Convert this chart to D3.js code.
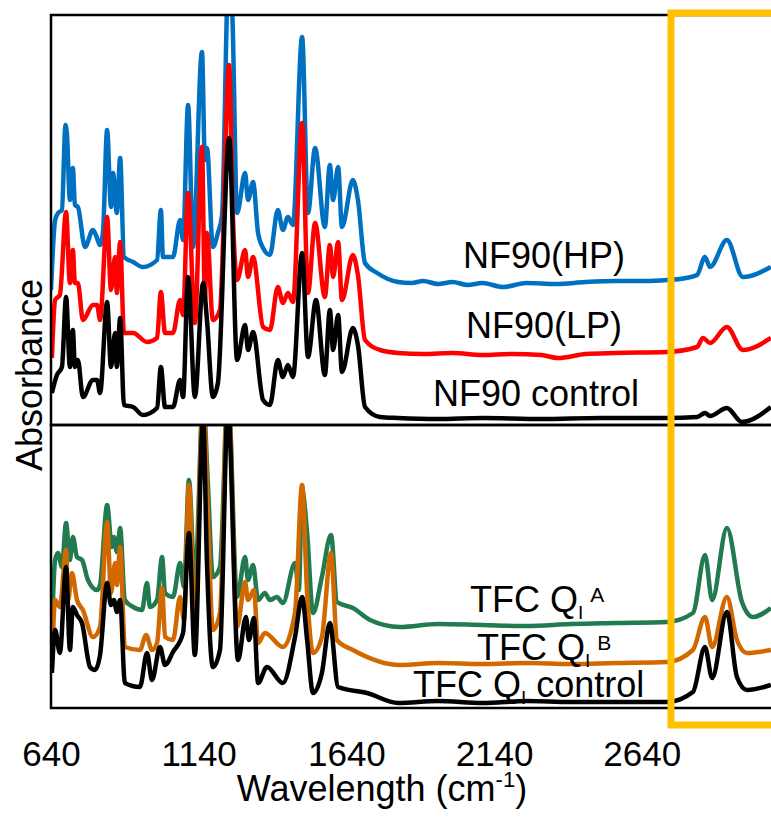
<!DOCTYPE html>
<html>
<head>
<meta charset="utf-8">
<script src="https://cdn.jsdelivr.net/npm/d3@7"></script>
<style>
  body { margin: 0; background: #fff; }
  svg { display: block; font-family: "Liberation Sans", Arial, sans-serif; }
</style>
</head>
<body>
<svg id="chart" width="771" height="817"></svg>
<script>
// wavenumber (cm-1), absorbance (offset, arbitrary units) as plotted
const nf90HP = [[640,1.35],[654,2.05],[664,2.12],[677,2.15],[689,3.00],[694,2.90],[704,2.25],[714,2.57],[721,2.20],[731,2.18],
  [755,1.78],[782,1.95],[792,1.90],[806,1.80],[816,1.93],[830,2.95],[843,2.18],[850,2.52],[863,2.12],[874,2.67],[887,1.68],
  [918,1.63],[951,1.58],[999,1.65],[1012,2.15],[1019,1.68],[1053,1.68],[1077,2.05],[1087,1.85],[1104,3.20],[1121,1.78],
  [1151,3.73],[1161,2.65],[1168,2.77],[1188,1.78],[1205,1.92],[1219,2.10],[1240,4.40],[1253,4.15],[1270,2.12],[1297,2.52],
  [1307,2.25],[1324,2.43],[1341,1.92],[1358,1.77],[1381,1.70],[1408,2.15],[1425,1.95],[1442,2.08],[1459,2.00],[1490,3.88],
  [1510,2.12],[1534,2.77],[1567,1.98],[1584,2.60],[1595,2.25],[1612,2.58],[1625,1.98],[1662,2.45],[1679,2.25],[1703,1.62],
  [1744,1.52],[1815,1.43],[1860,1.42],[1900,1.44],[1950,1.41],[2000,1.43],[2050,1.40],[2100,1.42],[2170,1.38],[2250,1.42],
  [2350,1.41],[2450,1.43],[2550,1.44],[2650,1.44],[2725,1.45],[2790,1.47],[2827,1.50],[2854,1.68],[2871,1.58],[2928,1.85],
  [2982,1.48],[3077,1.58]];
const nf90LP = [[643,0.67],[654,1.25],[670,1.30],[691,2.13],[704,1.42],[714,1.75],[721,1.42],[731,1.42],[748,1.05],[782,1.20],
  [796,1.20],[806,1.05],[830,2.08],[843,1.35],[857,1.68],[863,1.32],[874,1.83],[887,0.92],[918,0.92],[965,0.83],[999,0.87],
  [1012,1.33],[1026,0.92],[1053,0.92],[1077,1.25],[1087,1.10],[1104,2.32],[1127,1.02],[1151,2.78],[1161,1.25],[1168,1.92],
  [1188,1.05],[1212,1.15],[1243,3.60],[1256,2.08],[1270,1.45],[1297,1.75],[1307,1.48],[1324,1.68],[1358,0.98],[1381,0.95],
  [1408,1.38],[1425,1.22],[1442,1.32],[1459,1.23],[1490,3.02],[1510,1.32],[1534,2.02],[1567,1.28],[1584,1.80],[1595,1.48],
  [1612,1.83],[1625,1.25],[1662,1.70],[1679,1.50],[1703,0.85],[1754,0.75],[1815,0.72],[1900,0.71],[2000,0.72],[2100,0.70],
  [2200,0.71],[2300,0.70],[2356,0.67],[2450,0.71],[2550,0.72],[2725,0.73],[2827,0.78],[2847,0.87],[2871,0.82],[2928,0.98],
  [2982,0.75],[3077,0.87]];
const nf90Control = [[643,0.32],[660,0.50],[677,0.58],[691,1.28],[704,0.58],[714,0.95],[721,0.58],[731,0.65],[748,0.28],
  [782,0.45],[796,0.45],[806,0.32],[830,1.23],[843,0.58],[857,0.92],[863,0.58],[874,1.07],[887,0.20],[918,0.18],[951,0.10],
  [999,0.17],[1012,0.58],[1026,0.18],[1053,0.18],[1077,0.45],[1087,0.28],[1104,1.48],[1127,0.28],[1155,1.42],[1168,1.05],
  [1188,0.28],[1205,0.42],[1243,2.87],[1270,0.65],[1297,1.00],[1307,0.75],[1324,0.93],[1358,0.25],[1381,0.20],[1408,0.65],
  [1425,0.48],[1442,0.60],[1459,0.48],[1490,1.72],[1510,0.68],[1537,1.25],[1567,0.50],[1584,1.15],[1595,0.75],[1612,1.10],
  [1625,0.53],[1662,0.97],[1679,0.80],[1703,0.18],[1754,0.08],[1815,0.07],[1950,0.06],[2100,0.07],[2300,0.06],[2500,0.07],
  [2725,0.07],[2827,0.08],[2854,0.12],[2871,0.09],[2928,0.17],[2979,0.03],[3077,0.18]];

const tfcA = [[643,0.78],[654,1.48],[664,1.55],[677,1.41],[691,1.85],[704,1.48],[714,1.71],[728,1.51],[745,1.48],[765,1.28],
  [796,1.18],[806,1.23],[830,2.03],[846,1.61],[853,1.71],[863,1.56],[874,1.80],[890,1.08],[918,1.01],[948,0.98],[965,1.25],
  [975,1.01],[999,1.08],[1016,1.51],[1026,1.15],[1053,1.11],[1077,1.45],[1090,1.21],[1107,2.28],[1127,1.25],[1155,3.10],
  [1171,2.25],[1188,1.31],[1212,1.41],[1239,3.20],[1270,1.11],[1297,1.51],[1307,1.28],[1324,1.43],[1341,1.08],[1364,1.15],
  [1381,1.08],[1405,1.11],[1425,1.05],[1466,1.45],[1479,1.18],[1490,2.18],[1507,1.75],[1527,0.95],[1557,1.31],[1588,1.73],
  [1608,1.06],[1662,1.00],[1720,0.88],[1821,0.81],[1950,0.84],[2100,0.83],[2250,0.82],[2400,0.84],[2550,0.85],[2725,0.86],
  [2813,0.95],[2854,1.53],[2878,1.08],[2928,1.80],[2979,1.06],[3016,0.91],[3077,1.00]];
const tfcB = [[643,0.38],[654,1.08],[670,1.01],[691,1.58],[698,1.08],[711,1.35],[728,1.08],[748,0.98],[782,0.71],[806,0.81],
  [830,1.86],[843,1.15],[857,1.45],[863,1.23],[874,1.61],[890,0.61],[941,0.58],[962,0.73],[982,0.58],[999,0.65],[1016,1.20],
  [1026,0.71],[1053,0.68],[1077,1.11],[1090,0.88],[1107,2.23],[1127,0.78],[1155,3.10],[1171,1.95],[1188,0.78],[1212,0.95],
  [1239,3.20],[1270,0.81],[1297,1.26],[1307,1.08],[1327,1.18],[1341,0.65],[1364,0.75],[1425,0.61],[1466,0.95],[1490,2.23],
  [1507,1.15],[1527,0.55],[1557,0.71],[1588,1.55],[1608,0.68],[1662,0.58],[1821,0.43],[1950,0.45],[2100,0.44],[2250,0.45],
  [2400,0.44],[2550,0.45],[2725,0.46],[2813,0.58],[2854,0.91],[2878,0.61],[2928,1.11],[2962,0.68],[2996,0.55],[3077,0.58]];
const tfcControl = [[643,0.35],[654,0.78],[670,0.55],[691,1.41],[704,0.58],[714,1.01],[728,0.93],[745,0.85],[772,0.41],
  [789,0.38],[806,0.53],[830,1.25],[843,1.03],[853,1.08],[863,0.96],[874,1.08],[890,0.25],[941,0.21],[965,0.55],[982,0.28],
  [1009,0.61],[1026,0.43],[1053,0.56],[1087,0.75],[1107,1.75],[1127,0.53],[1155,2.90],[1168,1.45],[1188,0.41],[1212,0.58],
  [1239,3.00],[1273,0.48],[1300,0.91],[1310,0.68],[1327,0.90],[1341,0.25],[1371,0.41],[1425,0.25],[1466,0.71],[1490,1.11],
  [1507,0.68],[1527,0.15],[1557,0.35],[1584,0.85],[1612,0.21],[1710,0.15],[1815,0.05],[1950,0.07],[2100,0.05],[2250,0.07],
  [2400,0.06],[2550,0.06],[2725,0.06],[2813,0.16],[2854,0.61],[2878,0.30],[2928,0.96],[2962,0.31],[2996,0.18],[3077,0.23]];

const tickValues = [640, 1140, 1640, 2140, 2640];

const topSeries = [
  {name: "NF90(HP)", data: nf90HP, color: "#0070C0"},
  {name: "NF90(LP)", data: nf90LP, color: "#FF0000"},
  {name: "NF90 control", data: nf90Control, color: "#000000"}
];
const bottomSeries = [
  {name: "TFC QI A", data: tfcA, color: "#217A50"},
  {name: "TFC QI B", data: tfcB, color: "#D26900"},
  {name: "TFC QI control", data: tfcControl, color: "#000000"}
];

let svg = d3.select("#chart");

let left = 51, top1 = 15, mid = 425, bottom = 708, right = 1100;

let x_scale = d3.scaleLinear()
  .domain([640, 4000])
  .range([left, left + 3360 * 0.2954]);

let y_top = d3.scaleLinear().domain([0, 4.1]).range([mid, top1]);
let y_bot = d3.scaleLinear().domain([0, 2.83]).range([bottom, mid]);

// clip paths
let defs = svg.append("defs");
defs.append("clipPath").attr("id", "clip-top")
  .append("rect").attr("x", left).attr("y", top1).attr("width", right - left).attr("height", mid - top1);
defs.append("clipPath").attr("id", "clip-bot")
  .append("rect").attr("x", left).attr("y", mid).attr("width", right - left).attr("height", bottom - mid);

function drawLines(series, y_scale, clip) {
  let line = d3.line()
    .x(d => x_scale(d[0]))
    .y(d => y_scale(d[1]))
    .curve(d3.curveMonotoneX);
  svg.append("g")
    .attr("clip-path", `url(#${clip})`)
    .selectAll("path")
    .data(series)
    .join("path")
    .attr("d", d => line(d.data))
    .attr("fill", "none")
    .attr("stroke", d => d.color)
    .attr("stroke-width", 4.5)
    .attr("stroke-linejoin", "round");
}

drawLines(topSeries, y_top, "clip-top");
drawLines(bottomSeries, y_bot, "clip-bot");

// panel frames
svg.append("rect")
  .attr("x", left).attr("y", top1).attr("width", right - left).attr("height", mid - top1)
  .attr("fill", "none").attr("stroke", "#000").attr("stroke-width", 2.5);
svg.append("rect")
  .attr("x", left).attr("y", mid).attr("width", right - left).attr("height", bottom - mid)
  .attr("fill", "none").attr("stroke", "#000").attr("stroke-width", 2.5);

// x axis
let xAxis = svg.append("g")
  .attr("transform", `translate(0, ${bottom})`)
  .call(d3.axisBottom(x_scale).tickValues(tickValues).tickSize(0).tickFormat(d3.format("d")));
xAxis.select(".domain").remove();
xAxis.selectAll("text")
  .attr("y", 58)
  .attr("dy", 0)
  .attr("fill", "#000")
  .style("font-size", "35px")
  .style("font-family", "Liberation Sans, Arial, sans-serif");

// axis titles
let xLabel = svg.append("text")
  .attr("x", 382).attr("y", 801)
  .attr("text-anchor", "middle")
  .style("font-size", "36px");
xLabel.append("tspan").text("Wavelength (cm");
xLabel.append("tspan").attr("dy", -14).style("font-size", "22px").text("-1");
xLabel.append("tspan").attr("dy", 14).text(")");

svg.append("text")
  .attr("transform", "translate(42, 375) rotate(-90)")
  .attr("text-anchor", "middle")
  .style("font-size", "36px")
  .text("Absorbance");

// series labels
let labelFont = "36px";
svg.append("text").attr("x", 544).attr("y", 268).attr("text-anchor", "middle")
  .style("font-size", labelFont).text("NF90(HP)");
svg.append("text").attr("x", 544).attr("y", 338).attr("text-anchor", "middle")
  .style("font-size", labelFont).text("NF90(LP)");
svg.append("text").attr("x", 536).attr("y", 406).attr("text-anchor", "middle")
  .style("font-size", labelFont).text("NF90 control");

function qLabel(xPos, yPos, sup, tail) {
  let t = svg.append("text").attr("x", xPos).attr("y", yPos).style("font-size", labelFont);
  t.append("tspan").text("TFC Q");
  t.append("tspan").attr("dy", 7).style("font-size", "19px").text("I");
  if (sup) {
    t.append("tspan").attr("dx", 7).attr("dy", -17).style("font-size", "21px").text(sup);
  } else {
    t.append("tspan").attr("dy", -7).text(tail);
  }
}
qLabel(470, 612, "A");
qLabel(477, 660, "B");
qLabel(413, 697, null, " control");

// highlight box
svg.append("rect")
  .attr("x", 671).attr("y", 13).attr("width", 300).attr("height", 712)
  .attr("fill", "none").attr("stroke", "#FFC000").attr("stroke-width", 7);
</script>
</body>
</html>
